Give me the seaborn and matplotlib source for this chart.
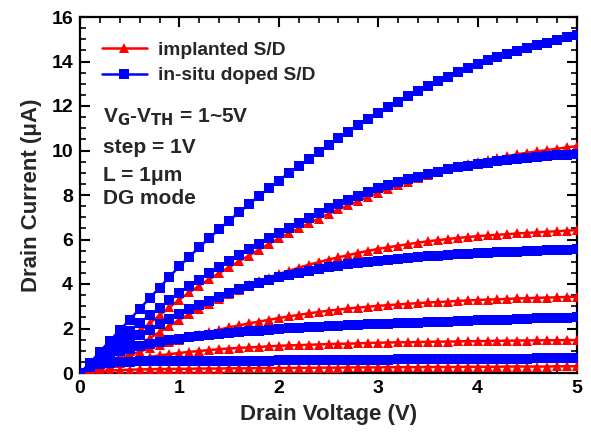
import numpy as np
import pandas as pd
import matplotlib
matplotlib.use("Agg")
import matplotlib.pyplot as plt
import seaborn as sns
from matplotlib.ticker import MultipleLocator

drain_voltage = [0.0, 0.1, 0.2, 0.3, 0.4, 0.5, 0.6, 0.7, 0.8, 0.9,
                 1.0, 1.1, 1.2, 1.3, 1.4, 1.5, 1.6, 1.7, 1.8, 1.9,
                 2.0, 2.1, 2.2, 2.3, 2.4, 2.5, 2.6, 2.7, 2.8, 2.9,
                 3.0, 3.1, 3.2, 3.3, 3.4, 3.5, 3.6, 3.7, 3.8, 3.9,
                 4.0, 4.1, 4.2, 4.3, 4.4, 4.5, 4.6, 4.7, 4.8, 4.9, 5.0]

# implanted S/D, VG-VTH = 1..5 V
impl_1 = [0, 0.04, 0.08, 0.11, 0.13, 0.15, 0.16, 0.17, 0.18, 0.18,
          0.19, 0.19, 0.2, 0.2, 0.2, 0.21, 0.21, 0.21, 0.22, 0.22,
          0.22, 0.23, 0.23, 0.23, 0.24, 0.24, 0.24, 0.25, 0.25, 0.25,
          0.25, 0.26, 0.26, 0.26, 0.26, 0.27, 0.27, 0.27, 0.27, 0.28,
          0.28, 0.28, 0.28, 0.29, 0.29, 0.29, 0.29, 0.29, 0.3, 0.3, 0.3]
impl_2 = [0, 0.08, 0.2, 0.32, 0.44, 0.55, 0.64, 0.72, 0.79, 0.85,
          0.9, 0.95, 0.99, 1.03, 1.07, 1.1, 1.13, 1.15, 1.17, 1.2,
          1.22, 1.24, 1.25, 1.27, 1.28, 1.3, 1.31, 1.32, 1.33, 1.35,
          1.36, 1.37, 1.38, 1.38, 1.39, 1.4, 1.41, 1.41, 1.42, 1.43,
          1.43, 1.44, 1.45, 1.45, 1.46, 1.46, 1.47, 1.47, 1.47, 1.48, 1.48]
impl_3 = [0, 0.1, 0.26, 0.44, 0.62, 0.8, 0.96, 1.11, 1.25, 1.38,
          1.5, 1.62, 1.73, 1.84, 1.95, 2.05, 2.14, 2.23, 2.31, 2.39,
          2.47, 2.54, 2.61, 2.68, 2.74, 2.8, 2.85, 2.9, 2.94, 2.98,
          3.02, 3.05, 3.08, 3.11, 3.14, 3.17, 3.19, 3.21, 3.24, 3.26,
          3.28, 3.3, 3.31, 3.33, 3.35, 3.36, 3.38, 3.39, 3.4, 3.42, 3.43]
impl_4 = [0, 0.12, 0.3, 0.52, 0.76, 1.0, 1.28, 1.56, 1.84, 2.12,
          2.4, 2.64, 2.88, 3.11, 3.33, 3.55, 3.75, 3.94, 4.12, 4.29,
          4.45, 4.59, 4.73, 4.86, 4.98, 5.1, 5.2, 5.3, 5.4, 5.49,
          5.58, 5.65, 5.72, 5.79, 5.86, 5.92, 5.97, 6.02, 6.07, 6.11,
          6.15, 6.18, 6.21, 6.24, 6.27, 6.3, 6.32, 6.35, 6.37, 6.4, 6.42]
impl_5 = [0, 0.2, 0.48, 0.8, 1.15, 1.5, 1.87, 2.23, 2.59, 2.95,
          3.3, 3.62, 3.93, 4.21, 4.49, 4.75, 5.02, 5.28, 5.54, 5.8,
          6.05, 6.28, 6.5, 6.72, 6.94, 7.15, 7.35, 7.54, 7.73, 7.92,
          8.1, 8.27, 8.43, 8.59, 8.75, 8.9, 9.03, 9.15, 9.27, 9.39,
          9.5, 9.59, 9.67, 9.75, 9.83, 9.9, 9.96, 10.02, 10.08, 10.14, 10.2]

# in-situ doped S/D, VG-VTH = 1..5 V
insitu_1 = [0, 0.25, 0.4, 0.47, 0.5, 0.51, 0.52, 0.52, 0.53, 0.53,
            0.53, 0.54, 0.54, 0.54, 0.55, 0.55, 0.55, 0.56, 0.56, 0.56,
            0.57, 0.57, 0.57, 0.58, 0.58, 0.58, 0.59, 0.59, 0.59, 0.6,
            0.6, 0.6, 0.61, 0.61, 0.61, 0.62, 0.62, 0.62, 0.63, 0.63,
            0.63, 0.64, 0.64, 0.64, 0.65, 0.65, 0.66, 0.66, 0.67, 0.67, 0.68]
insitu_2 = [0, 0.35, 0.62, 0.82, 0.97, 1.1, 1.21, 1.31, 1.4, 1.48,
            1.55, 1.61, 1.66, 1.71, 1.76, 1.8, 1.84, 1.88, 1.91, 1.95,
            1.98, 2.01, 2.03, 2.06, 2.08, 2.1, 2.12, 2.14, 2.16, 2.18,
            2.2, 2.22, 2.23, 2.25, 2.26, 2.28, 2.3, 2.31, 2.33, 2.34,
            2.36, 2.37, 2.39, 2.4, 2.42, 2.43, 2.45, 2.46, 2.47, 2.49, 2.5]
insitu_3 = [0, 0.35, 0.68, 0.95, 1.2, 1.45, 1.7, 1.95, 2.19, 2.42,
            2.65, 2.86, 3.06, 3.25, 3.43, 3.6, 3.76, 3.91, 4.05, 4.18,
            4.3, 4.4, 4.5, 4.59, 4.67, 4.75, 4.82, 4.88, 4.94, 5.0,
            5.05, 5.09, 5.13, 5.17, 5.21, 5.25, 5.28, 5.31, 5.33, 5.36,
            5.38, 5.4, 5.42, 5.44, 5.45, 5.47, 5.49, 5.51, 5.53, 5.55, 5.57]
insitu_4 = [0, 0.4, 0.8, 1.18, 1.55, 1.9, 2.25, 2.6, 2.93, 3.27,
            3.6, 3.91, 4.2, 4.5, 4.78, 5.05, 5.31, 5.57, 5.82, 6.06,
            6.3, 6.53, 6.75, 6.97, 7.19, 7.4, 7.59, 7.78, 7.96, 8.13,
            8.3, 8.44, 8.58, 8.71, 8.83, 8.95, 9.05, 9.15, 9.24, 9.32,
            9.4, 9.46, 9.52, 9.58, 9.63, 9.68, 9.72, 9.76, 9.79, 9.82, 9.85]
insitu_5 = [0, 0.45, 0.95, 1.45, 1.92, 2.4, 2.88, 3.36, 3.84, 4.32,
            4.8, 5.23, 5.65, 6.06, 6.46, 6.85, 7.22, 7.59, 7.95, 8.31,
            8.65, 8.98, 9.3, 9.62, 9.94, 10.25, 10.55, 10.84, 11.13, 11.42,
            11.7, 11.95, 12.2, 12.44, 12.67, 12.9, 13.11, 13.32, 13.52, 13.71,
            13.9, 14.05, 14.19, 14.33, 14.47, 14.6, 14.72, 14.84, 14.96, 15.08, 15.2]

series_names = ["implanted S/D", "in-situ doped S/D"]
x_ticks = [0, 1, 2, 3, 4, 5]
y_ticks = [0, 2, 4, 6, 8, 10, 12, 14, 16]

sns.set_theme(style="ticks")
plt.rcParams["font.family"] = ["Liberation Sans", "DejaVu Sans"]
plt.rcParams["font.weight"] = "bold"
plt.rcParams["axes.labelweight"] = "bold"

fig = plt.figure(figsize=(5.91, 4.33), dpi=100)
ax = fig.add_axes([80 / 591, 60 / 433, 497 / 591, 356 / 433])

impl_curves = [impl_1, impl_2, impl_3, impl_4, impl_5]
insitu_curves = [insitu_1, insitu_2, insitu_3, insitu_4, insitu_5]

for i, cur in enumerate(impl_curves):
    df = pd.DataFrame({"Vd": drain_voltage, "Id": cur})
    sns.lineplot(data=df, x="Vd", y="Id", ax=ax, color="#ff0000", marker="^",
                 markersize=7, markeredgewidth=0, linewidth=1.8,
                 label=series_names[0] if i == 0 else None, zorder=3)
for i, cur in enumerate(insitu_curves):
    df = pd.DataFrame({"Vd": drain_voltage, "Id": cur})
    sns.lineplot(data=df, x="Vd", y="Id", ax=ax, color="#0000ff", marker="s",
                 markersize=6.5, markeredgewidth=0, linewidth=1.8,
                 label=series_names[1] if i == 0 else None, zorder=3)

ax.set_xlim(0, 5)
ax.set_ylim(0, 16)
ax.set_xticks(x_ticks)
ax.set_yticks(y_ticks)
ax.xaxis.set_minor_locator(MultipleLocator(0.2))
ax.yaxis.set_minor_locator(MultipleLocator(0.5))
ax.tick_params(which="both", direction="in", top=True, right=True,
               labelsize=14, pad=5, colors="black")
ax.tick_params(which="major", length=7, width=1.5)
ax.tick_params(which="minor", length=4, width=1.2)
for lab in ax.get_xticklabels() + ax.get_yticklabels():
    lab.set_fontweight("bold")
for sp in ax.spines.values():
    sp.set_linewidth(1.6)
    sp.set_color("black")

ax.set_xlabel("Drain Voltage (V)", fontsize=16, fontweight="bold", labelpad=5)
ax.set_ylabel("Drain Current (\u03bcA)", fontsize=16, fontweight="bold", labelpad=7)

leg = ax.legend(loc="upper left", bbox_to_anchor=(0.044, 0.931), frameon=False,
                fontsize=13.8, handlelength=2.35, handletextpad=0.57,
                labelspacing=0.42, borderpad=0, borderaxespad=0)
for t in leg.get_texts():
    t.set_fontweight("bold")

ann = [("V$_\\mathbf{G}$-V$_\\mathbf{TH}$ = 1~5V", 0.705),
       ("step = 1V", 0.618),
       ("L = 1\u03bcm", 0.539),
       ("DG mode", 0.474)]
for txt, yy in ann:
    ax.text(0.046, yy, txt, transform=ax.transAxes, fontsize=15,
            fontweight="bold", va="baseline", ha="left")

fig.savefig("out.png", dpi=100)
